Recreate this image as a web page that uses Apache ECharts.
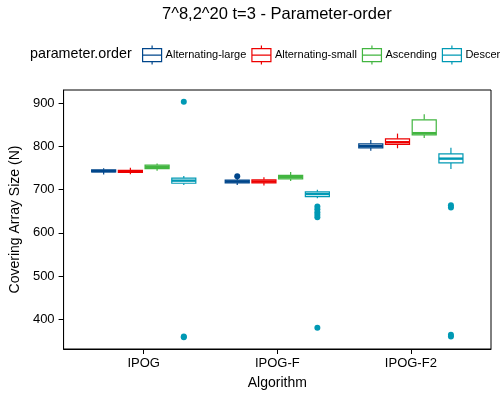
<!DOCTYPE html>
<html><head><meta charset="utf-8">
<script src="https://cdn.jsdelivr.net/npm/echarts@6/dist/echarts.min.js"></script>
<style>html,body{margin:0;padding:0;background:#fff}#c{width:500px;height:400px}</style>
</head><body><div id="c"></div>
<script>
const categories = ['IPOG', 'IPOG-F', 'IPOG-F2'];
const seriesNames = ['Alternating-large', 'Alternating-small', 'Ascending', 'Descending'];
const colors = ['#00468B', '#ED0000', '#42B540', '#0099B4'];
const yTicks = [400, 500, 600, 700, 800, 900];

// [min, q1, median, q3, max] per category
const altLarge   = [[735, 741, 743, 746, 750], [711, 716, 719, 722, 727], [790, 797, 801, 806, 815]];
const altSmall   = [[736, 740, 742, 745, 751], [710, 716, 719, 723, 729], [796, 805, 810, 818, 830]];
const ascending  = [[744, 749, 753, 757, 761], [720, 725, 729, 733, 741], [820, 827, 831, 862, 875]];
const descending = [[711, 715, 721, 727, 732], [680, 684, 690, 695, 700], [748, 762, 772, 783, 797]];

const altLargeOut   = [[], [731], []];
const altSmallOut   = [[], [], []];
const ascendingOut  = [[], [], []];
const descendingOut = [[904, 360, 358], [661, 655, 648, 642, 636, 380], [664, 659, 364, 360]];

const boxes = [altLarge, altSmall, ascending, descending];
const outliers = [altLargeOut, altSmallOut, ascendingOut, descendingOut];

const FONT = '"Liberation Sans", Arial, sans-serif';
const DODGE = 0.2, BOXW = 0.18;
function xPos(cat, s) { return cat + 1 + (s - 1.5) * DODGE; }
const ICON = 'path://M0,3 H19 V16 H0 Z M0,9.5 H19 M9.5,0 V3 M9.5,16 V19';

const chart = echarts.init(document.getElementById('c'));
const series = [];
boxes.forEach(function (arr, s) {
  const col = colors[s];
  series.push({
    type: 'custom',
    name: seriesNames[s],
    data: arr.map(function (b, c) { return [xPos(c, s)].concat(b); }),
    encode: { x: 0, y: [1, 2, 3, 4, 5] },
    z: 2,
    renderItem: function (params, api) {
      const x = api.value(0);
      const w = api.size([BOXW, 0])[0];
      const pMin = api.coord([x, api.value(1)]);
      const pQ1 = api.coord([x, api.value(2)]);
      const pMed = api.coord([x, api.value(3)]);
      const pQ3 = api.coord([x, api.value(4)]);
      const pMax = api.coord([x, api.value(5)]);
      const ls = { stroke: col, lineWidth: 1.2 };
      return {
        type: 'group',
        children: [
          { type: 'line', shape: { x1: pMax[0], y1: pMax[1], x2: pQ3[0], y2: pQ3[1] }, style: ls },
          { type: 'line', shape: { x1: pMin[0], y1: pMin[1], x2: pQ1[0], y2: pQ1[1] }, style: ls },
          { type: 'rect', shape: { x: pQ1[0] - w / 2, y: pQ3[1], width: w, height: pQ1[1] - pQ3[1] },
            style: { fill: '#fff', stroke: col, lineWidth: 1.2 } },
          { type: 'line', shape: { x1: pMed[0] - w / 2, y1: pMed[1], x2: pMed[0] + w / 2, y2: pMed[1] },
            style: { stroke: col, lineWidth: 2.4 } }
        ]
      };
    }
  });
  const pts = [];
  outliers[s].forEach(function (vs, c) { vs.forEach(function (v) { pts.push([xPos(c, s), v]); }); });
  series.push({
    type: 'scatter', name: seriesNames[s], data: pts, symbolSize: 6, z: 3,
    itemStyle: { color: col, opacity: 1 }
  });
});

chart.setOption({
  animation: false,
  backgroundColor: '#fff',
  textStyle: { fontFamily: FONT },
  title: [
    { text: '7^8,2^20 t=3 - Parameter-order', left: 162, top: 6, padding: 0,
      textStyle: { fontFamily: FONT, fontSize: 16.5, fontWeight: 'normal', color: '#000' } },
    { text: 'parameter.order', left: 30, top: 47, padding: 0,
      textStyle: { fontFamily: FONT, fontSize: 14.3, fontWeight: 'normal', color: '#000' } }
  ],
  legend: {
    left: 142, top: 45, width: 1200, padding: 0,
    itemWidth: 19, itemHeight: 19, itemGap: 5,
    textStyle: { fontFamily: FONT, fontSize: 11, color: '#000', padding: [2, 0, 0, -1] },
    data: seriesNames.map(function (n, i) {
      return { name: n, icon: ICON, itemStyle: { color: '#fff', borderColor: colors[i], borderWidth: 1.2 } };
    })
  },
  grid: { left: 63, right: 9, top: 90, bottom: 51, show: true, borderColor: '#000', borderWidth: 1, containLabel: false },
  xAxis: {
    type: 'value', min: 0.4, max: 3.6,
    name: 'Algorithm', nameLocation: 'middle', nameGap: 27,
    nameTextStyle: { fontFamily: FONT, fontSize: 14, color: '#000' },
    axisLine: { show: true, lineStyle: { color: '#000', width: 1 } },
    axisTick: { show: true, length: 5, customValues: [1, 2, 3], lineStyle: { color: '#000' } },
    axisLabel: { customValues: [1, 2, 3], fontSize: 13, color: '#000', margin: 8,
      formatter: function (v) { return categories[Math.round(v) - 1] || ''; } },
    splitLine: { show: false }
  },
  yAxis: {
    type: 'value', min: 331, max: 931,
    name: 'Covering Array Size (N)', nameLocation: 'middle', nameGap: 39,
    nameTextStyle: { fontFamily: FONT, fontSize: 14, color: '#000' },
    axisLine: { show: true, lineStyle: { color: '#000', width: 1 } },
    axisTick: { show: true, length: 5, customValues: yTicks, lineStyle: { color: '#000' } },
    axisLabel: { customValues: yTicks, fontSize: 13, color: '#000', margin: 9 },
    splitLine: { show: false }
  },
  series: series
});
</script>
</body></html>
